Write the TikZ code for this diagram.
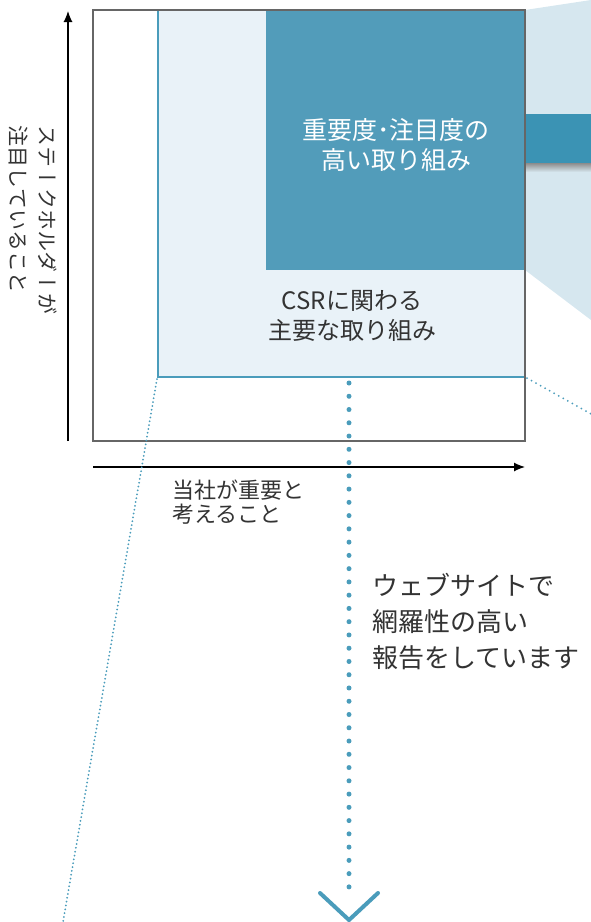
\documentclass[tikz,border=0pt]{standalone}
\usepackage{fontspec}
\setmainfont{Noto Sans CJK JP}
\newfontfamily\tatefont[Vertical=RotatedGlyphs]{Noto Sans CJK JP}
\usetikzlibrary{arrows.meta}
\definecolor{boxblue}{HTML}{529CBA}
\definecolor{bandblue}{HTML}{3B93B4}
\definecolor{paleblue}{HTML}{E9F2F8}
\definecolor{fanblue}{HTML}{D6E7EF}
\definecolor{lineblue}{HTML}{4A9CBB}
\definecolor{textgray}{HTML}{333333}

\begin{document}
\begin{tikzpicture}[x=1pt,y=-1pt,
	bigdots/.style={color=lineblue, line width=5pt, line cap=round, dash pattern=on 0pt off 13.26pt},
	finedots/.style={color=lineblue, line width=2pt, line cap=round, dash pattern=on 0pt off #1},
	axis/.style={line width=1.2pt, -{Latex[length=11pt,width=9pt]}},
	label/.style={text=textgray, inner sep=0pt}]
			%%%%% START %%%%%
			\useasboundingbox (0, 0) rectangle (591, 922);
			
			% fan and band on the right
			\fill[fanblue] (525, 10) -- (591, 0) -- (591, 320) -- (525, 270) -- cycle;
			\shade[top color=black!45, bottom color=fanblue] (525, 163) rectangle (591, 172);
			\fill[bandblue] (525, 114) rectangle (591, 163);
			
			% the two fields
			\fill[paleblue] (158, 10) rectangle (525, 377);
			\fill[boxblue] (266, 10) rectangle (525, 270);
			\draw[line width=2.5pt, color=lineblue] (158, 10) -- (158, 377) -- (525, 377);
			\draw[line width=1.3pt, color=black!60] (93, 10) rectangle (525, 441);
			
			% axes
			\coordinate (ybot) at (68, 441);
			\coordinate (ytop) at (68, 11);
			\coordinate (xleft) at (93, 467);
			\coordinate (xright) at (525, 467);
			\draw[axis] (ybot) -- (ytop);
			\draw[axis] (xleft) -- (xright);
			
			% dotted lines
			\coordinate (lcorner) at (157, 379);
			\coordinate (lend) at (63, 922);
			\coordinate (rcorner) at (527, 378);
			\coordinate (rend) at (600, 419);
			\draw[finedots=3.9pt] (lcorner) -- (lend);
			\draw[finedots=5.2pt] (rcorner) -- (rend);
			
			\coordinate (dtop) at (349, 383);
			\coordinate (dbot) at (349, 900);
			\draw[bigdots] (dtop) -- (dbot);
			\draw[line width=4pt, color=lineblue, line cap=round] (320, 893) -- (349, 920) -- (378, 893);
			
			% labels
			\node[label, text=white, align=center, font=\fontsize{25}{30}\selectfont] (priority) at (396, 145) {重要度･注目度の\\高い取り組み};
			\node[label, align=center, font=\fontsize{24}{30}\selectfont] (csr) at (352, 316) {CSRに関わる\\主要な取り組み};
			\node[label, align=left, anchor=west, font=\fontsize{22}{24}\selectfont] (ours) at (172, 502) {当社が重要と\\考えること};
			\node[label, align=left, rotate=-90, font=\fontsize{21}{29}\tatefont] (stake) at (33, 220) {ステークホルダーが\\注目していること};
			\node[label, align=left, anchor=west, font=\fontsize{26}{36}\selectfont] (web) at (372, 622) {ウェブサイトで\\網羅性の高い\\報告をしています};
			
			%%%%% END %%%%%
		\end{tikzpicture}
\end{document}
